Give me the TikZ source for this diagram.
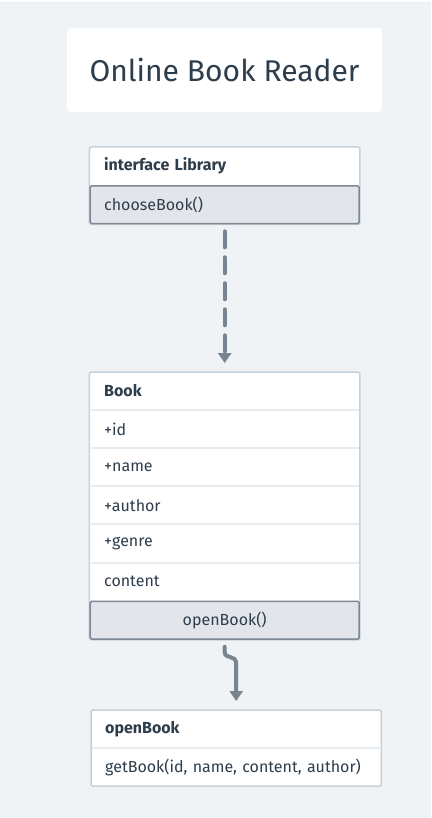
\documentclass[tikz,border=0pt]{standalone}
\usepackage{fontspec}
\setmainfont{Fira Sans}
\usetikzlibrary{arrows.meta,fit,positioning,calc,backgrounds}

\definecolor{pagebg}{HTML}{EFF3F6}
\definecolor{txt}{HTML}{2E3D4B}
\definecolor{boxline}{HTML}{C6D1DA}
\definecolor{rowline}{HTML}{E7ECF0}
\definecolor{methfill}{HTML}{E2E6EA}
\definecolor{methline}{HTML}{7D8894}
\definecolor{flow}{HTML}{78848F}

\tikzset{
  classrow/.style={text=txt, minimum width=269pt, text width=241pt,
    inner xsep=14pt, inner ysep=0pt, minimum height=37.7pt, align=left,
    font=\fontsize{16}{18}\selectfont},
  classhead/.style={classrow, font=\fontsize{16}{18}\selectfont\bfseries},
  methodrow/.style={classrow, fill=methfill, draw=methline, line width=1.5pt, rounded corners=1.5pt},
  classbox/.style={fill=white, draw=boxline, line width=1.5pt, rounded corners=2pt, inner sep=0pt},
  flowline/.style={draw=flow, line width=4pt, line cap=round, -{Triangle[width=13pt,length=10pt]}}
}

\begin{document}
\begin{tikzpicture}[x=1pt, y=-1pt]
 \useasboundingbox (0,0) rectangle (431,818);

 \node[fill=white, rounded corners=4pt, minimum width=315pt, minimum height=84pt,
       text=txt, font=\fontsize{30}{34}\selectfont\fontseries{l}\selectfont] (title) at (224.5,70) {Online Book Reader};

 % interface
 \node[classhead, anchor=north west] (libhead) at (90,147) {interface Library};
 \node[methodrow, below=0pt of libhead] (libmeth) {chooseBook()};

 % Book
 \node[classhead, anchor=north west] (bookhead) at (90,372) {Book};
 \node[classrow, below=0pt of bookhead] (bookid) {+id};
 \node[classrow, below=0pt of bookid] (bookname) {+name};
 \node[classrow, below=0pt of bookname] (bookauthor) {+author};
 \node[classrow, below=0pt of bookauthor] (bookgenre) {+genre};
 \node[classrow, below=0pt of bookgenre] (bookcontent) {content};
 \node[methodrow, below=0pt of bookcontent, align=center] (bookmeth) {openBook()};

 % openBook
 \node[classhead, anchor=north west, minimum width=290pt, text width=262pt] (openhead) at (91,710) {openBook};
 \node[classrow, below=0pt of openhead, minimum width=290pt, text width=262pt] (openmeth) {getBook(id, name, content, author)};

 \foreach \r in {bookhead,bookid,bookname,bookauthor,bookgenre,openhead}
   \draw[rowline, line width=2pt, shorten <=0.75pt, shorten >=0.75pt] (\r.south west) -- (\r.south east);

 \begin{pgfonlayer}{background}
  \fill[pagebg] (0,0) rectangle (431,818);
  \fill[white] (0,0) rectangle (431,2);
  \draw[rowline, line width=1pt] (0,2.5) -- (431,2.5);
  \node[classbox, fit=(libhead) (libmeth)] (libbox) {};
  \node[classbox, fit=(bookhead) (bookmeth)] (bookbox) {};
  \node[classbox, fit=(openhead) (openmeth)] (openbox) {};
 \end{pgfonlayer}

 \draw[flowline, dash pattern=on 16pt off 10pt, shorten <=7pt, shorten >=9pt] (libmeth.south) -- (bookhead.north);
 \draw[flowline, shorten <=7pt, shorten >=9pt] (bookmeth.south) -- ($(bookmeth.south)+(0,12)$)
    .. controls ($(bookmeth.south)+(0,20)$) and ($(openhead.north)+(0,-56)$) .. ($(openhead.north)+(0,-46)$)
    -- (openhead.north);
\end{tikzpicture}
\end{document}
